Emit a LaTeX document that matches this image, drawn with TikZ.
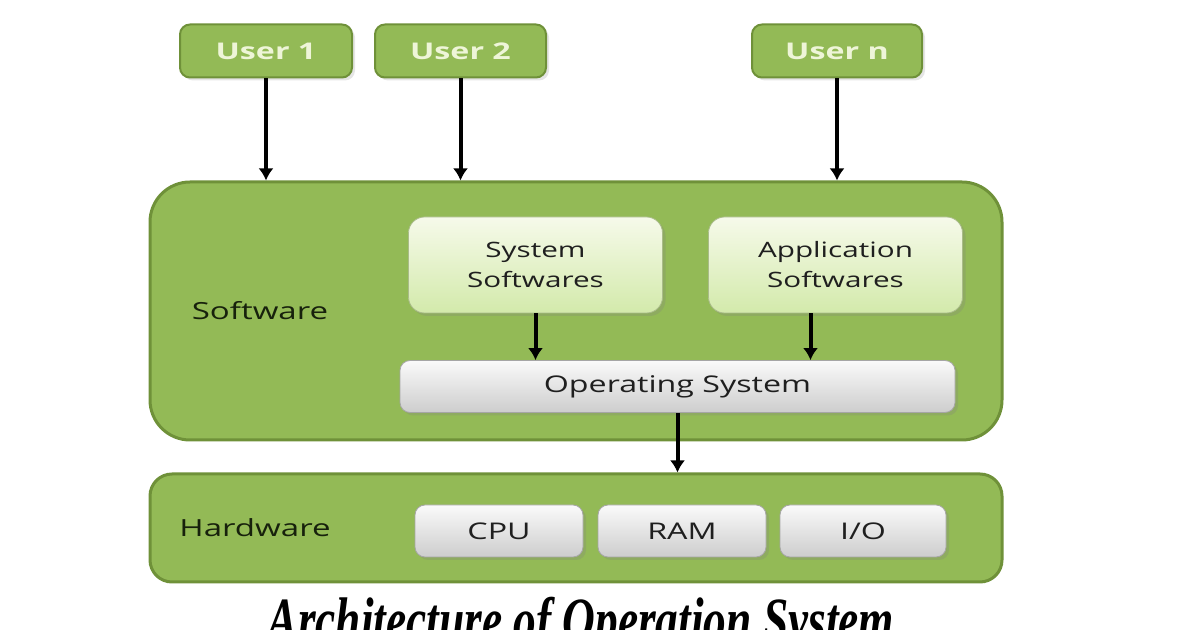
\documentclass[tikz,border=0pt]{standalone}
\usepackage{fontspec}
\setmainfont{Open Sans}[FakeStretch=1.4]
\newfontfamily\capfont{Liberation Serif}[FakeStretch=0.72]
\usetikzlibrary{arrows.meta,shadows}

\definecolor{leaf}{HTML}{93BA56}
\definecolor{leafdark}{HTML}{6F9139}
\definecolor{leaftext}{HTML}{EEF5D8}
\definecolor{labeltext}{HTML}{17210C}
\definecolor{paletop}{HTML}{F6FAEA}
\definecolor{palebot}{HTML}{D3EAAB}
\definecolor{greytop}{HTML}{FAFAFA}
\definecolor{greybot}{HTML}{CDCDCD}

\begin{document}
\begin{tikzpicture}[x=0.5pt,y=-0.5pt,
    layer/.style={draw=leafdark,line width=1.5pt,fill=leaf,minimum width=426pt},
    userbox/.style={draw=leafdark,line width=1pt,fill=leaf,rounded corners=5pt,
      minimum height=26.5pt,text=leaftext,font=\bfseries\fontsize{11.5}{14}\selectfont,
      drop shadow={opacity=0.2,shadow xshift=1.5pt,shadow yshift=-1.5pt}},
    softbox/.style={draw=palebot!80!black,line width=0.4pt,top color=paletop,bottom color=palebot,
      rounded corners=8pt,minimum width=127pt,minimum height=48pt,align=center,text=black!88,
      font=\fontsize{10.6}{15}\selectfont,
      drop shadow={opacity=0.25,shadow xshift=1.5pt,shadow yshift=-1.5pt}},
    partbox/.style={draw=black!35,line width=0.4pt,top color=greytop,bottom color=greybot,
      rounded corners=5pt,minimum height=26pt,text=black!88,font=\fontsize{11.5}{14}\selectfont,
      drop shadow={opacity=0.25,shadow xshift=1.5pt,shadow yshift=-1.5pt}},
    tag/.style={text=labeltext,font=\fontsize{11.8}{14}\selectfont},
    arr/.style={line width=2pt,-{Latex[length=6pt,width=7.5pt]}}]
  \clip (0,0) rectangle (1200,630); % page size
  \fill[white] (0,0) rectangle (1200,630);

  % users
  \node[userbox,minimum width=86pt] (u1) at (266,51) {User 1};
  \node[userbox,minimum width=85.5pt] (u2) at (460.5,51) {User 2};
  \node[userbox,minimum width=85pt] (un) at (837,51) {User n};

  % software layer
  \node[layer,rounded corners=20pt,minimum height=129pt] (sw) at (576,311) {};
  \node[tag] (swlabel) at (260,311) {Software};
  \node[softbox] (sys) at (535.5,265) {System\\Softwares};
  \node[softbox] (app) at (835.5,265) {Application\\Softwares};
  \node[partbox,minimum width=277.5pt] (os) at (677.5,386.5) {Operating System};

  % hardware layer
  \node[layer,rounded corners=11pt,minimum height=54pt] (hw) at (576,528) {};
  \node[tag] (hwlabel) at (255,528) {Hardware};
  \node[partbox,minimum width=84pt] (cpu) at (499,531) {CPU};
  \node[partbox,minimum width=84pt] (ram) at (682,531) {RAM};
  \node[partbox,minimum width=83pt] (io) at (863,531) {I/O};

  % arrows
  \draw[arr] (u1) -- (u1 |- sw.north);
  \draw[arr] (u2) -- (u2 |- sw.north);
  \draw[arr] (un) -- (un |- sw.north);
  \draw[arr] (sys) -- (sys |- os.north);
  \draw[arr] ([xshift=-12.5pt]app.south) -- ([xshift=-12.5pt]app.south |- os.north);
  \draw[arr] (os) -- (os |- hw.north);

  \node[anchor=base,font=\capfont\bfseries\itshape\fontsize{31.5}{34}\selectfont] (caption) at (581,641) {Architecture of Operation System};
\end{tikzpicture}
\end{document}
